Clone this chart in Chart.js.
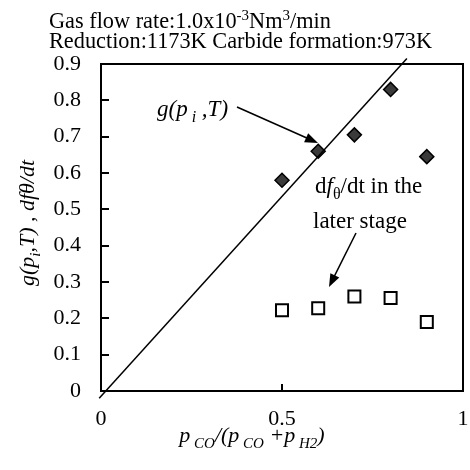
<!DOCTYPE html>
<html>
<head>
    <title>g(p,T) vs CO fraction</title>
    <script src="https://cdn.jsdelivr.net/npm/chart.js"></script>
    <style>
        body { margin: 0; background: #fff; }
    </style>
</head>
<body>
    <canvas id="gChart" width="470" height="470"></canvas>
    <script>
    // values
    const coFraction = [0.5, 0.6, 0.7, 0.8, 0.9];
    const gValues = [0.58, 0.66, 0.705, 0.83, 0.645];
    const laterRate = [0.222, 0.228, 0.26, 0.256, 0.19];
    const fitX = [-0.005, 0.845];
    const fitY = [-0.02, 0.915];
    const yTickValues = [0.1, 0.2, 0.3, 0.4, 0.5, 0.6, 0.7, 0.8];
    const xTickValues = [0.5];

    const SERIF = '"Liberation Serif", "Times New Roman", serif';

    // draws a run of text pieces, some of them sub/superscript
    function drawRich(ctx, x, y, parts, size, align) {
        const fontFor = p => (p.italic ? 'italic ' : '') + (p.sub || p.sup ? Math.round(size * 0.68) : size) + 'px ' + SERIF;
        let total = 0;
        parts.forEach(p => { ctx.font = fontFor(p); total += ctx.measureText(p.t).width; });
        let cx = align === 'center' ? x - total / 2 : x;
        ctx.textAlign = 'left';
        ctx.textBaseline = 'alphabetic';
        parts.forEach(p => {
            ctx.font = fontFor(p);
            let dy = 0;
            if (p.sub) dy = size * 0.25;
            if (p.sup) dy = -size * 0.38;
            ctx.fillText(p.t, cx, y + dy);
            cx += ctx.measureText(p.t).width;
        });
    }

    function arrow(ctx, x1, y1, x2, y2) {
        const ang = Math.atan2(y2 - y1, x2 - x1);
        const len = 13, half = 5;
        ctx.beginPath();
        ctx.moveTo(x1, y1);
        ctx.lineTo(x2 - Math.cos(ang) * len * 0.8, y2 - Math.sin(ang) * len * 0.8);
        ctx.stroke();
        ctx.beginPath();
        ctx.moveTo(x2, y2);
        ctx.lineTo(x2 - Math.cos(ang) * len + Math.sin(ang) * half, y2 - Math.sin(ang) * len - Math.cos(ang) * half);
        ctx.lineTo(x2 - Math.cos(ang) * len - Math.sin(ang) * half, y2 - Math.sin(ang) * len + Math.cos(ang) * half);
        ctx.closePath();
        ctx.fill();
    }

    const decorations = {
        id: 'decorations',
        afterDraw(chart) {
            const ctx = chart.ctx;
            const a = chart.chartArea;
            const xs = chart.scales.x, ys = chart.scales.y;
            ctx.save();
            ctx.strokeStyle = '#000';
            ctx.fillStyle = '#000';

            // frame
            ctx.lineWidth = 2;
            ctx.strokeRect(a.left, a.top, a.right - a.left, a.bottom - a.top);

            // inward tick marks
            yTickValues.forEach(v => {
                const py = Math.round(ys.getPixelForValue(v));
                ctx.beginPath();
                ctx.moveTo(a.left, py);
                ctx.lineTo(a.left + 8, py);
                ctx.stroke();
            });
            xTickValues.forEach(v => {
                const px = Math.round(xs.getPixelForValue(v));
                ctx.beginPath();
                ctx.moveTo(px, a.bottom);
                ctx.lineTo(px, a.bottom - 7);
                ctx.stroke();
            });

            // header lines
            drawRich(ctx, 49, 28, [
                { t: 'Gas flow rate:1.0x10' },
                { t: '-3', sup: true },
                { t: 'Nm' },
                { t: '3', sup: true },
                { t: '/min' }
            ], 22.3);
            drawRich(ctx, 49, 48, [{ t: 'Reduction:1173K Carbide formation:973K' }], 22.3);

            // x axis title
            drawRich(ctx, 252, 442, [
                { t: 'p', italic: true },
                { t: ' CO', italic: true, sub: true },
                { t: '/(', italic: true },
                { t: 'p', italic: true },
                { t: ' CO', italic: true, sub: true },
                { t: ' +', italic: true },
                { t: 'p', italic: true },
                { t: ' H2', italic: true, sub: true },
                { t: ')', italic: true }
            ], 22, 'center');

            // y axis title, rotated
            ctx.save();
            ctx.translate(34, 223);
            ctx.rotate(-Math.PI / 2);
            drawRich(ctx, 0, 0, [
                { t: 'g(p', italic: true },
                { t: 'i', italic: true, sub: true },
                { t: ',T) , dfθ/dt', italic: true }
            ], 22, 'center');
            ctx.restore();

            // annotations
            drawRich(ctx, 157, 116, [
                { t: 'g(p', italic: true },
                { t: ' i', italic: true, sub: true },
                { t: ' ,T)', italic: true }
            ], 23);
            drawRich(ctx, 315, 193, [
                { t: 'd' },
                { t: 'f', italic: true },
                { t: 'θ', sub: true },
                { t: '/dt in the' }
            ], 23);
            drawRich(ctx, 313, 228, [{ t: 'later stage' }], 23);

            ctx.lineWidth = 1.5;
            arrow(ctx, 237, 107, 318, 143);
            arrow(ctx, 356, 233, 329, 287);
            ctx.restore();
        }
    };

    const ctx = document.getElementById('gChart').getContext('2d');
    const chart = new Chart(ctx, {
        type: 'scatter',
        data: {
            datasets: [
                {
                    label: 'fit',
                    data: fitX.map((x, i) => ({ x: x, y: fitY[i] })),
                    showLine: true,
                    borderColor: '#000',
                    borderWidth: 1.5,
                    pointRadius: 0,
                    clip: false
                },
                {
                    label: 'g(pi,T)',
                    data: coFraction.map((x, i) => ({ x: x, y: gValues[i] })),
                    pointStyle: 'rectRot',
                    pointRadius: 7,
                    backgroundColor: '#3a3a3a',
                    borderColor: '#000',
                    borderWidth: 1.5
                },
                {
                    label: 'df/dt later stage',
                    data: coFraction.map((x, i) => ({ x: x, y: laterRate[i] })),
                    pointStyle: 'rect',
                    pointRadius: 8.5,
                    backgroundColor: '#fff',
                    borderColor: '#000',
                    borderWidth: 2
                }
            ]
        },
        options: {
            responsive: false,
            animation: false,
            layout: { autoPadding: false, padding: { top: 64, right: 7, left: 0, bottom: 0 } },
            plugins: {
                legend: { display: false },
                tooltip: { enabled: false }
            },
            scales: {
                x: {
                    type: 'linear',
                    min: 0,
                    max: 1,
                    ticks: {
                        stepSize: 0.5,
                        color: '#000',
                        padding: 7,
                        maxRotation: 0,
                        font: { family: SERIF, size: 22 },
                        callback: v => String(v)
                    },
                    grid: { display: false },
                    border: { display: false },
                    afterFit: s => { s.height = 79; s.paddingRight = 0; s.paddingLeft = 0; }
                },
                y: {
                    min: 0,
                    max: 0.9,
                    ticks: {
                        stepSize: 0.1,
                        color: '#000',
                        padding: 12,
                        font: { family: SERIF, size: 22 },
                        callback: v => String(Math.round(v * 10) / 10)
                    },
                    grid: { display: false },
                    border: { display: false },
                    afterFit: s => { s.width = 101; }
                }
            }
        },
        plugins: [decorations]
    });
    </script>
</body>
</html>
